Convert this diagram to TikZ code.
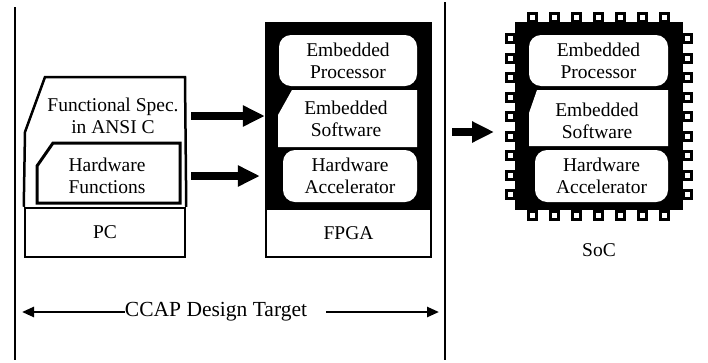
\documentclass[tikz,border=0pt]{standalone}
\usepackage{fontspec}
\setmainfont{Liberation Serif}
\usepackage{tikz}
\usetikzlibrary{arrows.meta,positioning}
\tikzstyle{box} = [draw=black, line width=2.5pt, fill=white, inner sep=0pt, font=\fontsize{19.5}{22}\selectfont]
\tikzstyle{rbox} = [fill=white, rounded corners=12pt, inner sep=0pt, align=center, font=\fontsize{19.5}{22}\selectfont]
\tikzstyle{chip} = [fill=black, inner sep=0pt]
\tikzstyle{txt} = [inner sep=0pt, align=center, font=\fontsize{19.5}{22}\selectfont]
\tikzstyle{pin} = [draw=black, fill=white, line width=3pt]
\tikzstyle{divider} = [line width=2.5pt]
\tikzstyle{fatarrow} = [line width=7.5pt, -{Triangle[length=22pt,width=20pt]}]
\tikzstyle{thinarrow} = [line width=2.5pt, -{Triangle[length=12pt,width=10pt]}]

\begin{document}
\begin{tikzpicture}[x=1pt,y=-1pt]
\useasboundingbox[fill=white] (0,0) rectangle (708,362);
% the two dividing lines
\coordinate (ltop) at (15,7);
\coordinate (lbot) at (15,360);
\coordinate (rtop) at (445,2);
\coordinate (rbot) at (445,360);
\draw[divider] (ltop) -- (lbot);
\draw[divider] (rtop) -- (rbot);

% PC
\node[box, minimum width=160, minimum height=49] (pc) at (105,232.5) {PC};
\draw[box] (pc.north west) -- (25,132) -- (45,77) -- (185,77) -- (pc.north east);
\node[txt] (spec) at (113,116) {Functional Spec.\\in ANSI C};
\draw[box, line width=3pt] (53,143) -- (180,143) -- (180,203) -- (37,203) -- (37,166) -- cycle;
\node[txt] (hwfunc) at (107,176) {Hardware\\Functions};

% FPGA
\node[chip, minimum width=167, minimum height=236] (fpga) at (348.5,140) {};
\node[box, draw=none, minimum width=163, minimum height=46] (fpganame) at (348.5,233) {FPGA};
\node[rbox, minimum width=138, minimum height=51] (fproc) at (348,60.5) {Embedded\\Processor};
\fill[white] (292,90) -- (417,90) -- (417,147) -- (278,147) -- (278,115) -- cycle;
\node[txt] (fsw) at (346,119) {Embedded\\Software};
\node[rbox, minimum width=134, minimum height=52] (fhw) at (350,176) {Hardware\\Accelerator};

% SoC
\foreach \i in {0,...,6} {
  \draw[pin] (528.5+22*\i,13.5) rectangle ++(8,8);
  \draw[pin] (528.5+22*\i,211.5) rectangle ++(8,8);
}
\foreach \j in {0,...,8} {
  \draw[pin] (506.5,34.5+19.5*\j) rectangle ++(8,8);
  \draw[pin] (683.5,34.5+19.5*\j) rectangle ++(8,8);
}
\node[chip, minimum width=168, minimum height=188] (soc) at (599,116) {};
\node[rbox, minimum width=139, minimum height=51] (sproc) at (598.5,60.5) {Embedded\\Processor};
\fill[white] (537,90) -- (668,90) -- (668,146) -- (529,146) -- (529,113) -- cycle;
\node[txt] (ssw) at (597,121) {Embedded\\Software};
\node[rbox, minimum width=133, minimum height=52] (shw) at (601.5,176) {Hardware\\Accelerator};
\node[txt] (socname) at (599,250) {SoC};

% arrows
\coordinate (socin) at (494,132);
\draw[fatarrow] ([xshift=5pt]pc.east |- spec) -- (fpga.west |- spec);
\draw[fatarrow] ([xshift=5pt]pc.east |- hwfunc) -- ([xshift=-5pt]fpga.west |- hwfunc);
\draw[fatarrow] ([xshift=7pt]rtop |- socin) -- (socin);

% design target
\node[txt, font=\fontsize{21.5}{24}\selectfont] (target) at (216,312) {CCAP Design Target};
\draw[thinarrow] (target.west) -- ([xshift=7pt]lbot |- target);
\draw[thinarrow] ([xshift=19pt]target.east) -- ([xshift=-6pt]rbot |- target);
\end{tikzpicture}
\end{document}
